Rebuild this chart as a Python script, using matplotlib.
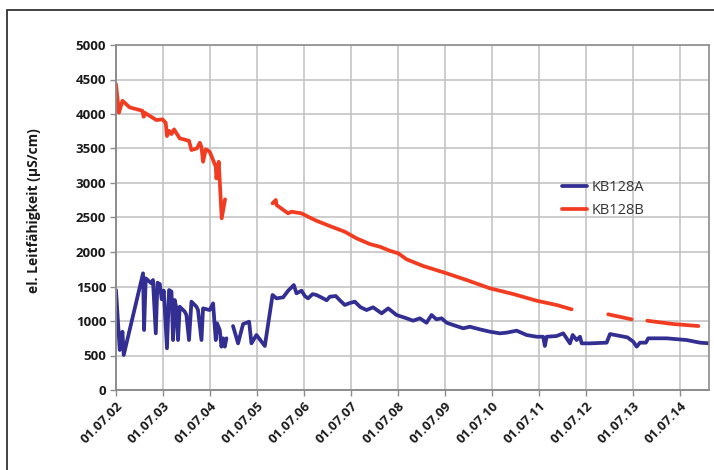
import numpy as np
import matplotlib
matplotlib.use("Agg")
import matplotlib.pyplot as plt
import matplotlib.dates as mdates
from matplotlib.patches import Rectangle

plt.rcParams['font.family'] = ['Open Sans', 'DejaVu Sans']

# KB128A, Abschnitte durch NaN getrennt (Datenluecken)
kb128a_t = [2002.500, 2002.579, 2002.636, 2002.664, 2003.074, 2003.096, 2003.132,
            2003.253, 2003.287, 2003.345, 2003.381, 2003.430, 2003.472, 2003.515,
            2003.585, 2003.628, 2003.679, 2003.713, 2003.749, 2003.785, 2003.819,
            2003.855, 2003.962, 2003.998, 2004.053, 2004.104, 2004.211, 2004.245,
            2004.317, 2004.351, 2004.494, 2004.564, 2004.621, 2004.649, 2004.706,
            2004.743, 2004.777, 2004.813, 2004.849,
            2004.900,
            2004.989, 2005.096, 2005.202, 2005.330, 2005.381, 2005.487, 2005.664,
            2005.828, 2005.913, 2006.053, 2006.160, 2006.281, 2006.338, 2006.445,
            2006.520, 2006.585, 2006.680, 2006.764, 2006.904, 2006.980, 2007.047,
            2007.174, 2007.260, 2007.366, 2007.470, 2007.579, 2007.700, 2007.828,
            2007.968, 2008.147, 2008.287, 2008.466, 2008.679, 2008.819,
            2008.962, 2009.104, 2009.211, 2009.315, 2009.423, 2009.530, 2009.670,
            2009.883, 2010.026, 2010.238, 2010.451, 2010.664, 2010.806, 2011.019,
            2011.232, 2011.445, 2011.585, 2011.621, 2011.657, 2011.870, 2012.011,
            2012.083, 2012.153, 2012.211, 2012.296, 2012.366, 2012.402, 2012.579,
            2012.934, 2013.004, 2013.374, 2013.500, 2013.572, 2013.643, 2013.770,
            2013.819, 2014.211, 2014.636, 2014.919, 2015.132]
kb128a_v = [1449, 580, 845, 507, 1691, 869, 1618,
            1546, 1594, 821, 1555, 1536, 1314, 1439,
            604, 1449, 1425, 724, 1304, 1183, 724,
            1207, 1135, 1087, 724, 1280, 1207, 1159,
            724, 1183, 1159, 1256, 724, 966, 869,
            628, 749, 628, 749,
            np.nan,
            927, 676, 956, 990, 676, 797, 638,
            1377, 1328, 1343, 1439, 1521, 1401, 1439,
            1360, 1328, 1390, 1377, 1328, 1300, 1352,
            1362, 1300, 1232, 1260, 1280, 1200, 1159,
            1198, 1111, 1183, 1087, 1039, 1004,
            1039, 975, 1087, 1024, 1039, 975, 942,
            894, 917, 879, 845, 821, 831, 860,
            797, 772, 772, 638, 772, 782, 821,
            749, 676, 797, 724, 772, 676, 676,
            686, 811, 763, 700, 628, 686, 686,
            749, 749, 724, 686, 676]

# KB128B
kb128b_t = [2002.500, 2002.564, 2002.636, 2002.791, 2003.062, 2003.089, 2003.111,
            2003.360, 2003.487, 2003.557, 2003.585, 2003.628, 2003.679, 2003.734,
            2003.855, 2004.053, 2004.104, 2004.223, 2004.281, 2004.317, 2004.351,
            2004.409, 2004.494, 2004.621, 2004.636, 2004.685, 2004.749, 2004.819,
            2005.300,
            2005.828, 2005.898, 2005.913, 2005.983, 2006.160, 2006.232, 2006.445,
            2006.585, 2006.764, 2007.047, 2007.366, 2007.615, 2007.898, 2008.111,
            2008.323, 2008.500, 2008.679, 2009.032, 2009.530, 2009.955, 2010.451,
            2010.947, 2011.445, 2011.870, 2012.189,
            2012.600,
            2012.968, 2013.466,
            2013.600,
            2013.798, 2014.351, 2014.883]
kb128b_v = [4434, 4018, 4192, 4096, 4047, 3960, 4018,
            3912, 3922, 3873, 3680, 3757, 3709, 3777,
            3647, 3612, 3478, 3502, 3583, 3520, 3308,
            3488, 3453, 3236, 3067, 3308, 2488, 2763,
            np.nan,
            2705, 2753, 2681, 2647, 2560, 2584, 2560,
            2511, 2453, 2376, 2294, 2198, 2115, 2077,
            2018, 1981, 1894, 1797, 1691, 1594, 1474,
            1391, 1294, 1232, 1169,
            np.nan,
            1097, 1024,
            np.nan,
            1004, 956, 927]

tick_years = list(range(2002, 2015))
y_ticks = list(range(0, 5001, 500))


def to_dates(years):
    years = np.asarray(years, dtype=float)
    days = np.round((years - 2002.5) * 365.25).astype(int)
    return np.datetime64('2002-07-01') + days.astype('timedelta64[D]')


fig = plt.figure(figsize=(7.14, 4.70), dpi=100)
ax = fig.add_axes([116 / 714, 1 - 390 / 470, (709 - 116) / 714, (390 - 45) / 470])

ax.plot(to_dates(kb128a_t), kb128a_v, color='#332E91', lw=2.7,
        solid_capstyle='round', solid_joinstyle='round', label='KB128A')
ax.plot(to_dates(kb128b_t), kb128b_v, color='#F23C21', lw=2.7,
        solid_capstyle='round', solid_joinstyle='round', label='KB128B')

ax.set_ylim(0, 5000)
ax.set_yticks(y_ticks)
ax.set_xlim(to_dates([2002.5])[0], to_dates([2002.5 + (709 - 116.3) / 47])[0])
ax.set_xticks([np.datetime64(f'{y}-07-01') for y in tick_years])
ax.xaxis.set_major_formatter(mdates.DateFormatter('%d.%m.%y'))

ax.grid(True, color='#C0C0C0', lw=1.1)
ax.set_axisbelow(True)
for side in ['top', 'right']:
    ax.spines[side].set_color('#8C8C8C')
    ax.spines[side].set_linewidth(1.2)
for side in ['left', 'bottom']:
    ax.spines[side].set_color('#8C8C8C')
    ax.spines[side].set_linewidth(1.4)

ax.tick_params(axis='both', direction='out', length=4, width=1, color='#8C8C8C',
               labelsize=9.5, labelcolor='#1A1A1A', pad=3)
for lab in ax.get_yticklabels():
    lab.set_fontweight('bold')
for lab in ax.get_xticklabels():
    lab.set_fontweight('bold')
    lab.set_rotation(45)
    lab.set_ha('right')
    lab.set_va('top')
    lab.set_rotation_mode('anchor')

ax.set_ylabel('el. Leitfähigkeit (µS/cm)', fontsize=10, fontweight='bold',
              color='#1A1A1A')
ax.yaxis.set_label_coords((41 - 116) / (709 - 116), 0.52)

leg = ax.legend(loc='center left', bbox_to_anchor=(562 / 714, 1 - 199 / 470),
                bbox_transform=fig.transFigure, frameon=False, fontsize=10.5,
                handlelength=1.7, handletextpad=0.3, labelspacing=0.6,
                borderpad=0, borderaxespad=0)
for t in leg.get_texts():
    t.set_color('#333333')

# aeusserer Rahmen
fig.add_artist(Rectangle((7 / 714, -0.1), 1.2, 1 - 10 / 470 + 0.1,
                         transform=fig.transFigure, fill=False,
                         ec='#333333', lw=1.3, clip_on=False))

fig.savefig('out.png', dpi=100)
